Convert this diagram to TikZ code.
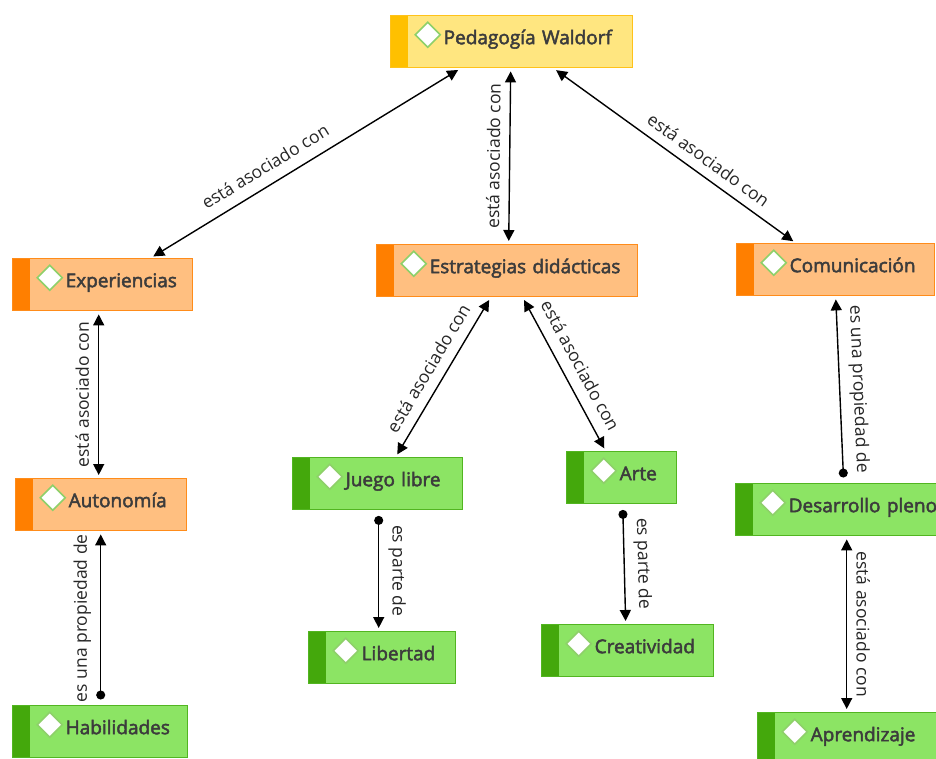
\documentclass[tikz,border=0pt]{standalone}
\usepackage{fontspec}
\setmainfont{Open Sans}
\newfontfamily\nodefont{Open Sans}[FakeBold=2.5]
\usetikzlibrary{arrows.meta}

\definecolor{ylwfill}{HTML}{FFE680}
\definecolor{ylwbar}{HTML}{FFC000}
\definecolor{ylwline}{HTML}{FFC21A}
\definecolor{orgfill}{HTML}{FFBF80}
\definecolor{orgbar}{HTML}{FF7F00}
\definecolor{orgline}{HTML}{FF8C1A}
\definecolor{grnfill}{HTML}{8CE464}
\definecolor{grnbar}{HTML}{44A80C}
\definecolor{grnline}{HTML}{52B521}
\definecolor{dmdline}{HTML}{8ED06A}
\definecolor{txtgray}{HTML}{3C3C3C}

\begin{document}
\begin{tikzpicture}[x=1pt, y=-1pt,
  concept/.style n args={2}{rectangle, draw=#1line, fill=#1fill, line width=1.4pt,
    text width=#2, minimum width=#2, minimum height=52pt, inner xsep=0pt,
    anchor=north west, text height=14pt, text depth=9pt, align=left,
    font=\nodefont\fontsize{19}{22}\selectfont, text=txtgray,
    execute at begin node={\hspace*{53pt}},
    path picture={
      \fill[#1bar] (path picture bounding box.north west) rectangle
        ([xshift=17pt]path picture bounding box.south west);
      \draw[dmdline, fill=white, line width=1.6pt]
        ([xshift=24.5pt, yshift=7pt]path picture bounding box.west)
        -- ++(12.5pt,12.5pt) -- ++(12.5pt,-12.5pt) -- ++(-12.5pt,-12.5pt) -- cycle;}},
  link/.style={line width=1.4pt, {Triangle[length=11pt,width=11pt]}-{Triangle[length=11pt,width=11pt]},
    shorten <=3pt, shorten >=3pt},
  dotfrom/.style={line width=1.4pt, {Circle[length=9pt]}-{Triangle[length=11pt,width=11pt]},
    shorten <=5.5pt, shorten >=3pt},
  dotto/.style={line width=1.4pt, {Triangle[length=11pt,width=11pt]}-{Circle[length=9pt]},
    shorten <=3pt, shorten >=5.5pt},
  lbl/.style={font=\fontsize{17.5}{20}\selectfont, text=black!85, inner sep=2pt}]

  \useasboundingbox (0,0) rectangle (936,758);
  \clip (0,0) rectangle (936,758);

  % 概念
  \node[concept={ylw}{242pt}] (waldorf) at (390,15) {Pedagogía Waldorf};
  \node[concept={org}{180pt}] (exper) at (12,258) {Experiencias};
  \node[concept={org}{261pt}] (estr) at (376,244) {Estrategias didácticas};
  \node[concept={org}{198pt}] (comun) at (736,243) {Comunicación};
  \node[concept={org}{171pt}] (auton) at (15,478) {Autonomía};
  \node[concept={grn}{170pt}] (juego) at (292,457) {Juego libre};
  \node[concept={grn}{110pt}] (arte) at (566,451) {Arte};
  \node[concept={grn}{210pt}] (desarr) at (735,483) {Desarrollo pleno};
  \node[concept={grn}{147pt}] (libert) at (308,631) {Libertad};
  \node[concept={grn}{172pt}] (creat) at (541,624) {Creatividad};
  \node[concept={grn}{175pt}] (habil) at (12,705) {Habilidades};
  \node[concept={grn}{190pt}] (aprend) at (757,712) {Aprendizaje};

  % 線を引く
  \draw[link] ([xshift=48pt]exper.north) -- node[lbl, sloped, above=9pt, pos=0.4] {está asociado con} ([xshift=-51pt]waldorf.south);
  \draw[link] ([xshift=1.5pt]estr.north) -- node[lbl, sloped, above=7pt] {está asociado con} ([xshift=-1pt]waldorf.south);
  \draw[link] ([xshift=42pt]waldorf.south) -- node[lbl, sloped, above=7pt, pos=0.6] {está asociado con} ([xshift=-40pt]comun.north);
  \draw[link] ([xshift=18pt]juego.north) -- node[lbl, sloped, above=8pt] {está asociado con} ([xshift=-16.5pt]estr.south);
  \draw[link] ([xshift=15.5pt]estr.south) -- node[lbl, sloped, above=9pt] {está asociado con} ([xshift=-16pt]arte.north);
  \draw[link] ([xshift=-2.5pt]auton.north) -- node[lbl, sloped, above=7pt] {está asociado con} ([xshift=-4pt]exper.south);
  \draw[link] ([xshift=6pt]desarr.south) -- node[lbl, sloped, above=7pt] {está asociado con} ([xshift=-6pt]aprend.north);

  % 性質・部分
  \draw[dotto] (comun.south) -- node[lbl, sloped, above=7pt] {es una propiedad de} ([xshift=3pt]desarr.north);
  \draw[dotfrom] ([xshift=0.5pt]habil.north) -- node[lbl, sloped, above=7pt] {es una propiedad de} ([xshift=-0.5pt]auton.south);
  \draw[dotfrom] ([xshift=1pt]juego.south) -- node[lbl, sloped, above=7pt] {es parte de} ([xshift=-3.5pt]libert.north);
  \draw[dotfrom] ([xshift=1pt]arte.south) -- node[lbl, sloped, above=7pt] {es parte de} ([xshift=-2pt]creat.north);
\end{tikzpicture}
\end{document}
